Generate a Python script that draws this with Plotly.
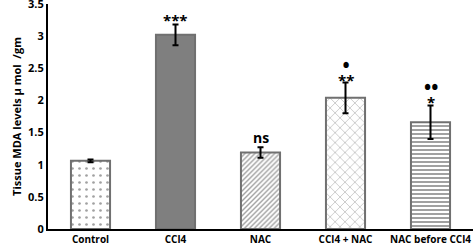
import plotly.graph_objects as go

categories = ["Control", "CCl4", "NAC", "CCl4 + NAC", "NAC before CCl4"]
values = [1.06, 3.02, 1.19, 2.04, 1.66]
errors = [0.02, 0.16, 0.08, 0.24, 0.26]
patterns = [".", "", "/", "x", "-"]
fills = ["white", "#7f7f7f", "white", "white", "white"]
pattern_colors = ["#8a8a8a", "#7f7f7f", "#6e6e6e", "#777777", "#777777"]
pattern_sizes = [7, 6, 3.5, 7, 4]
pattern_solidity = [0.12, 0.3, 0.4, 0.15, 0.5]
y_ticks = [0, 0.5, 1, 1.5, 2, 2.5, 3, 3.5]
y_tick_labels = ["0", "0.5", "1", "1.5", "2", "2.5", "3", "3.5"]
sig_labels = [
    ("CCl4", 3.25, ["***"]),
    ("NAC", 1.42, ["ns"]),
    ("CCl4 + NAC", 2.46, ["•", "**"]),
    ("NAC before CCl4", 2.12, ["••", "*"]),
]

font_family = "'Open Sans', 'Liberation Sans', sans-serif"

fig = go.Figure()
fig.add_trace(go.Bar(
    x=categories,
    y=values,
    width=0.46,
    marker=dict(
        color=fills,
        line=dict(color="#707070", width=2),
        pattern=dict(shape=patterns, fgcolor=pattern_colors, bgcolor=fills,
                     size=pattern_sizes, solidity=pattern_solidity, fillmode="overlay"),
    ),
    error_y=dict(type="data", array=errors, color="black", thickness=2, width=3),
))

for cat, y, lines in sig_labels:
    parts = []
    for ln in lines:
        size = 19 if "•" in ln else 15 if "*" in ln else 14
        parts.append("<span style='font-size:%dpx'><b>%s</b></span>" % (size, ln))
    fig.add_annotation(x=cat, y=y, text="<br>".join(parts), showarrow=False,
                       yanchor="middle",
                       font=dict(size=11 if len(lines) > 1 else 14, color="black", family=font_family))

fig.update_layout(
    width=473, height=250,
    margin=dict(l=48, r=0, t=4, b=21),
    plot_bgcolor="white", paper_bgcolor="white",
    showlegend=False,
    font=dict(family=font_family, color="black", size=11),
)
fig.update_xaxes(
    showline=True, linecolor="black", linewidth=2, showgrid=False,
    ticks="", tickfont=dict(size=10, family=font_family),
    tickvals=categories, ticktext=["<b>%s</b>" % c for c in categories],
    range=[-0.5, 4.5], ticklabeloverflow="allow",
)
fig.update_yaxes(
    showline=True, linecolor="black", linewidth=2, showgrid=False,
    range=[0, 3.5], tickvals=y_ticks,
    ticktext=["<b>%s</b>" % t for t in y_tick_labels],
    ticks="", tickfont=dict(size=11, family=font_family),
    ticklabeloverflow="allow", automargin=False,
    title=dict(text="<b>Tissue MDA levels µ mol  /gm</b>", font=dict(size=11, family=font_family), standoff=4),
    zeroline=False,
)

fig.write_html("out.html", config={"displayModeBar": False},
               post_script="document.body.style.margin='0';")
